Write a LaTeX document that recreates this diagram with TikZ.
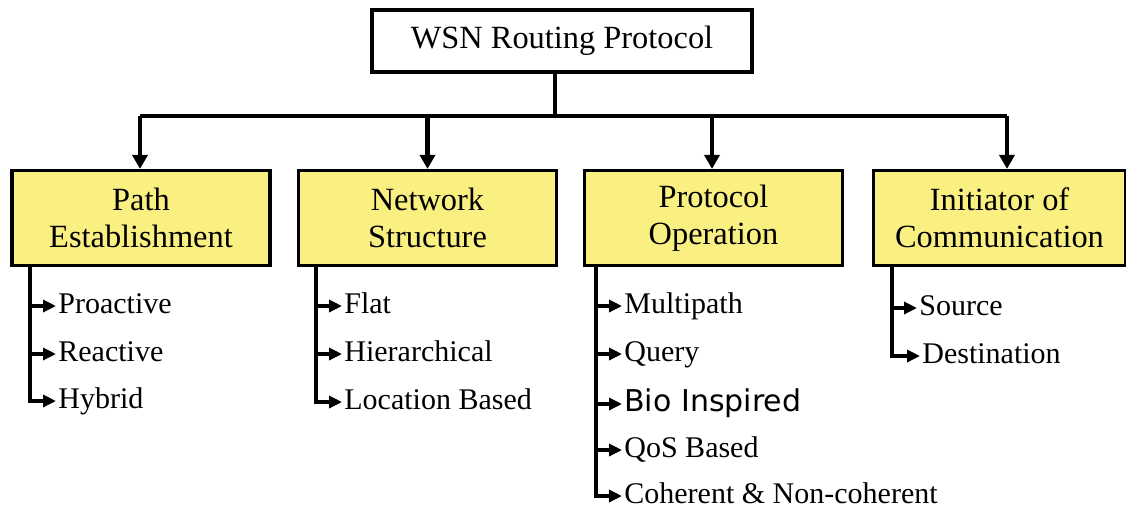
\documentclass[tikz,border=0pt]{standalone}
\usepackage{fontspec}
\setmainfont{Liberation Serif}
\newfontfamily\biofont{DejaVu Sans}
\usetikzlibrary{arrows.meta}

\definecolor{catyellow}{RGB}{250,240,130}

\tikzset{
  topbox/.style={draw, line width=1.6pt, fill=white, minimum width=190pt,
    minimum height=31pt, inner sep=0pt, font=\fontsize{16.2}{19}\selectfont},
  catbox/.style={draw, line width=1.6pt, fill=catyellow, minimum width=129pt,
    minimum height=47.5pt, align=center, inner sep=0pt,
    font=\fontsize{16.2}{18.5}\selectfont},
  item/.style={anchor=west, inner sep=1pt, text height=10.5pt, text depth=3pt},
  trunk/.style={line width=2.2pt},
  down/.style={trunk, -{Triangle[length=7pt,width=7.5pt]}},
  sub/.style={line width=1.6pt, -{Triangle[length=6.5pt,width=6pt]}},
}

\begin{document}
\begin{tikzpicture}[x=0.5pt, y=-0.5pt, font=\fontsize{15}{18}\selectfont]
\useasboundingbox (0,0) rectangle (1126,511);

% root and categories
\node[topbox] (wsn) at (562,41) {WSN Routing Protocol};
\node[catbox] (pe) at (141,218) {Path\\Establishment};
\node[catbox] (ns) at (427.5,218) {Network\\Structure};
\node[catbox] (po) at (713.5,218) {Protocol\\Operation};
\node[catbox, minimum width=126pt] (ic) at (999.5,218) {Initiator of\\Communication};

% trunk and branches
\coordinate (bar) at (555,116);
\draw[trunk] (wsn.south -| bar) -- (bar);
\draw[trunk] (bar) -- (140,116) coordinate (barL);
\draw[trunk] (bar) -- (1007,116) coordinate (barR);
\draw[down] (barL) -- (barL |- pe.north);
\draw[down] (bar -| ns.north) -- (ns.north);
\draw[down] (712,116) -- (712,116 |- po.north);
\draw[down] (barR) -- (barR |- ic.north);

% path establishment
\node[item] (pro) at (56,306) {Proactive};
\node[item] (rea) at (56,354) {Reactive};
\node[item] (hyb) at (56,401) {Hybrid};
\coordinate (peS) at (30,218);
\draw[sub] (peS |- pe.south) |- (pro.west);
\draw[sub] (peS |- pe.south) |- (rea.west);
\draw[sub] (peS |- pe.south) |- (hyb.west);

% network structure
\node[item] (fla) at (342,306) {Flat};
\node[item] (hie) at (342,354) {Hierarchical};
\node[item] (loc) at (342,402) {Location Based};
\coordinate (nsS) at (316,218);
\draw[sub] (nsS |- ns.south) |- (fla.west);
\draw[sub] (nsS |- ns.south) |- (hie.west);
\draw[sub] (nsS |- ns.south) |- (loc.west);

% protocol operation
\node[item] (mul) at (622,306) {Multipath};
\node[item] (que) at (622,354) {Query};
\node[item] (bio) at (622,404) {\biofont\fontsize{15}{17}\selectfont Bio Inspired};
\node[item] (qos) at (622,450) {QoS Based};
\node[item] (coh) at (622,496) {Coherent \& Non-coherent};
\coordinate (poS) at (596,218);
\draw[sub] (poS |- po.south) |- (mul.west);
\draw[sub] (poS |- po.south) |- (que.west);
\draw[sub] (poS |- po.south) |- (bio.west);
\draw[sub] (poS |- po.south) |- (qos.west);
\draw[sub] (poS |- po.south) |- (coh.west);

% initiator of communication
\node[item] (src) at (917,308) {Source};
\node[item] (dst) at (920,356) {Destination};
\coordinate (icS) at (892,218);
\draw[sub] (icS |- ic.south) |- (src.west);
\draw[sub] (icS |- ic.south) |- (dst.west);
\end{tikzpicture}
\end{document}
